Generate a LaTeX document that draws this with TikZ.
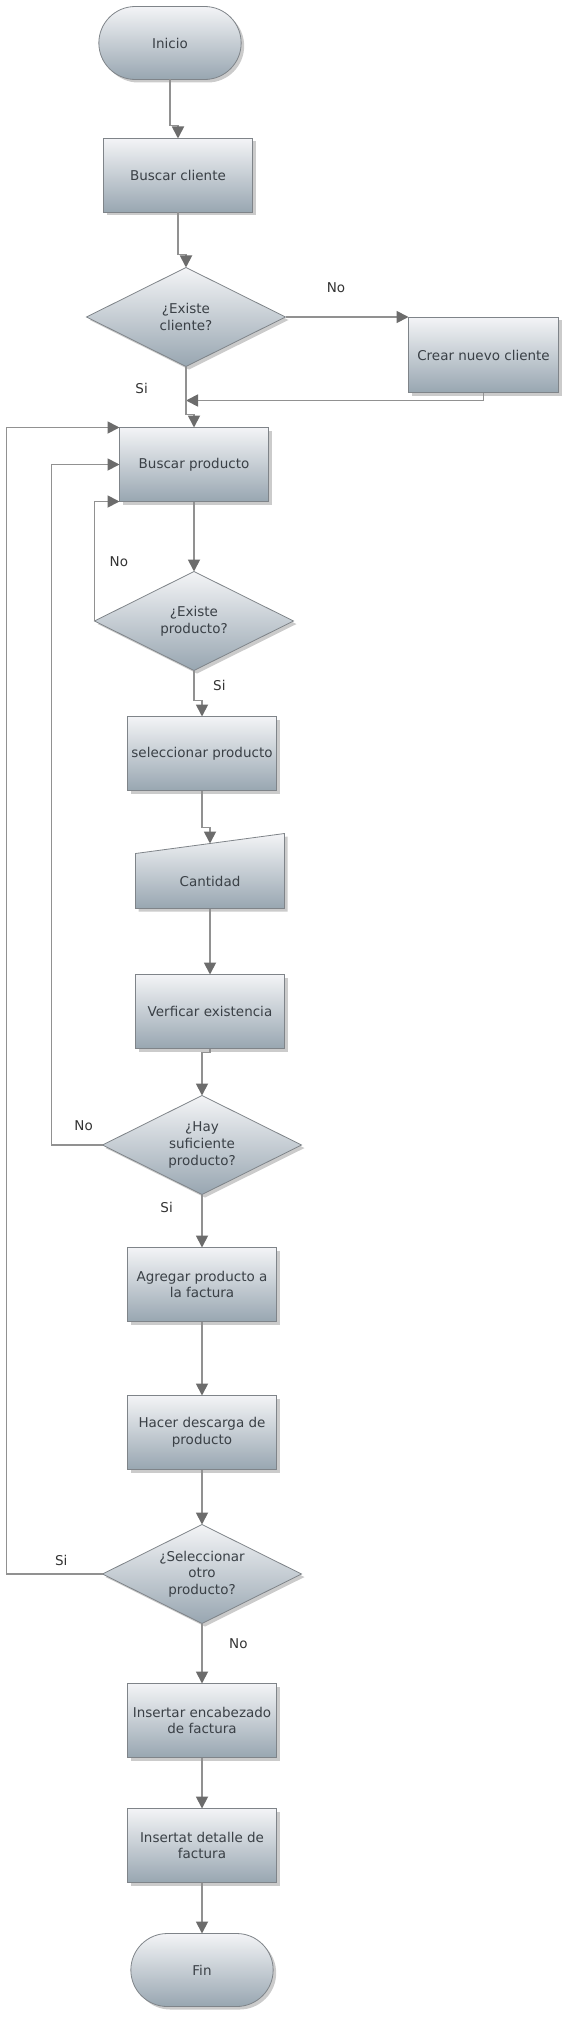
\documentclass[tikz,border=0pt]{standalone}
\usepackage{fontspec}
\setmainfont{DejaVu Sans}
\usepackage{xcolor}
\usepackage{tikz}
\usetikzlibrary{shapes,arrows.meta,positioning,backgrounds,calc,shadows}
\definecolor{boxtop}{RGB}{243,244,246}
\definecolor{boxmid}{RGB}{220,224,228}
\definecolor{boxbottom}{RGB}{152,166,177}
\definecolor{boxline}{RGB}{127,132,137}
\definecolor{flowgray}{RGB}{145,145,145}
\definecolor{tipgray}{RGB}{108,108,108}
\definecolor{textgray}{RGB}{58,64,70}

\begin{document}
\begin{tikzpicture}[x=1pt, y=1pt, font=\fontsize{13.5}{16.7}\selectfont, node distance=50pt,
    shapebase/.style={draw=boxline, line width=0.8pt, outer sep=0pt, top color=boxtop, middle color=boxmid, bottom color=boxbottom, text=textgray, drop shadow={shadow xshift=3pt, shadow yshift=-3pt, fill=black!45, opacity=0.45}},
    terminal/.style={shapebase, rounded rectangle, minimum width=149pt, minimum height=73pt},
    process/.style={shapebase, rectangle, minimum width=149pt, minimum height=74pt, inner sep=2pt, align=center},
    decision/.style={shapebase, diamond, aspect=2, minimum width=199pt, minimum height=99pt, inner sep=0pt, align=center},
    flow/.style={draw=flowgray, line width=1.8pt, -{Triangle[length=12pt, width=12pt, color=tipgray]}},
    answer/.style={text=black!80}]
  \useasboundingbox (0,0) rectangle (568,-2017);

  \node[terminal] (inicio) at (170,-43) {Inicio};
  \node[process, below=59pt of inicio, xshift=8pt] (bcliente) {Buscar cliente};
  \node[decision, below=55pt of bcliente, xshift=8pt] (excliente) {¿Existe\\cliente?};
  \node[process, right=123pt of excliente, yshift=-38pt, minimum width=150pt, minimum height=75pt] (nuevo) {Crear nuevo cliente};
  \node[process, below=61pt of excliente, xshift=8pt] (bproducto) {Buscar producto};
  \node[decision, below=70pt of bproducto] (exproducto) {¿Existe\\producto?};
  \node[process, below=46pt of exproducto, xshift=8pt] (selec) {seleccionar producto};
  \node[minimum width=149pt, minimum height=55pt, outer sep=0pt, text=textgray, below=63pt of selec, xshift=8pt] (cantidad) {Cantidad};
  \node[process, below=66pt of cantidad] (verificar) {Verficar existencia};
  \node[decision, below=47pt of verificar, xshift=-8pt] (suficiente) {¿Hay\\suficiente\\producto?};
  \node[process, below=53pt of suficiente] (agregar) {Agregar producto a\\la factura};
  \node[process, below=74pt of agregar] (descarga) {Hacer descarga de\\producto};
  \node[decision, below=55pt of descarga] (otro) {¿Seleccionar\\otro\\producto?};
  \node[process, below=60pt of otro] (encabezado) {Insertar encabezado\\de factura};
  \node[process, below=51pt of encabezado] (detalle) {Insertat detalle de\\factura};
  \node[terminal, below=51pt of detalle] (fin) {Fin};

  % manual input shape behind the text
  \begin{scope}[on background layer]
    \path[shapebase] (cantidad.south west) -- (cantidad.north west) -- ($(cantidad.north east)+(0,20)$) -- (cantidad.south east) -- cycle;
  \end{scope}
  \coordinate (cantin) at ($(cantidad.north)+(0,10)$);
  \coordinate (junta) at ($(excliente.south)+(0,-34)$);

  \draw[flow] (inicio.south) -- ++(0,-46) -| (bcliente.north);
  \draw[flow] (bcliente.south) -- ++(0,-42) -| (excliente.north);
  \draw[flow] (excliente.east) -- node[answer, pos=0.41, above=20pt] {No} (excliente.east -| nuevo.west);
  \draw[flow] (nuevo.south) |- (junta);
  \draw[flow] (excliente.south) -- node[answer, pos=0.45, left=34pt] {Si} ++(0,-48) -| (bproducto.north);
  \draw[flow] (bproducto.south) -- (exproducto.north);
  \draw[flow] (exproducto.west) |- node[answer, pos=0.25, right=11pt] {No} (bproducto.south west);
  \draw[flow] (exproducto.south) -- node[answer, pos=0.5, right=15pt] {Si} ++(0,-30) -| (selec.north);
  \draw[flow] (selec.south) -- ++(0,-37) -| (cantin);
  \draw[flow] (cantidad.south) -- (verificar.north);
  \draw[flow] (verificar.south) -- ++(0,-4) -| (suficiente.north);
  \draw[flow] (suficiente.west) -- node[answer, pos=0.37, above=10pt] {No} ++(-51,0) |- (bproducto.west);
  \draw[flow] (suficiente.south) -- node[answer, pos=0.25, left=25pt] {Si} (agregar.north);
  \draw[flow] (agregar) -- (descarga);
  \draw[flow] (descarga) -- (otro);
  \draw[flow] (otro.west) -- node[answer, pos=0.43, above=4pt] {Si} ++(-96,0) |- (bproducto.north west);
  \draw[flow] (otro.south) -- node[answer, pos=0.33, right=23pt] {No} (encabezado.north);
  \draw[flow] (encabezado) -- (detalle);
  \draw[flow] (detalle) -- (fin);
\end{tikzpicture}
\end{document}
